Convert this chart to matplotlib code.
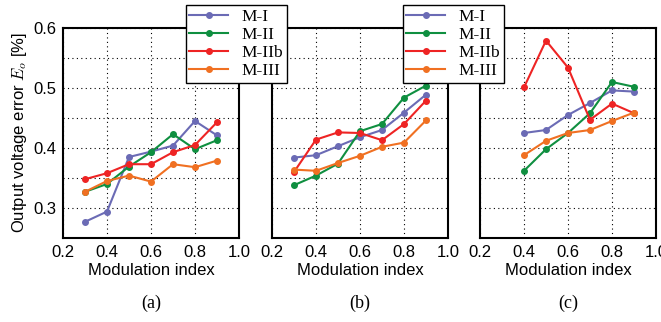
import numpy as np
import matplotlib
matplotlib.use('Agg')
import matplotlib.pyplot as plt

plt.rcParams['font.family'] = ['Liberation Sans', 'DejaVu Sans']
plt.rcParams['mathtext.fontset'] = 'cm'

# ── data
mod_ab = [0.3, 0.4, 0.5, 0.6, 0.7, 0.8, 0.9]
mod_c = [0.4, 0.5, 0.6, 0.7, 0.8, 0.9]

a_m1 = [0.277, 0.294, 0.385, 0.394, 0.404, 0.445, 0.421]
a_m2 = [0.327, 0.340, 0.369, 0.393, 0.423, 0.398, 0.413]
a_m2b = [0.348, 0.358, 0.373, 0.373, 0.393, 0.405, 0.443]
a_m3 = [0.327, 0.345, 0.354, 0.344, 0.373, 0.368, 0.379]

b_m1 = [0.384, 0.388, 0.403, 0.418, 0.430, 0.459, 0.489]
b_m2 = [0.338, 0.354, 0.374, 0.428, 0.440, 0.484, 0.504]
b_m2b = [0.360, 0.414, 0.426, 0.425, 0.413, 0.440, 0.479]
b_m3 = [0.364, 0.362, 0.375, 0.387, 0.402, 0.409, 0.446]

c_m1 = [0.425, 0.430, 0.455, 0.475, 0.496, 0.494]
c_m2 = [0.362, 0.398, 0.425, 0.458, 0.510, 0.502]
c_m2b = [0.501, 0.579, 0.534, 0.447, 0.474, 0.458]
c_m3 = [0.388, 0.412, 0.425, 0.430, 0.445, 0.459]

labels = ['M-I', 'M-II', 'M-IIb', 'M-III']
colors = ['#6b6bb5', '#0f8f40', '#ee2424', '#f07022']

panels = [
    (mod_ab, [a_m1, a_m2, a_m2b, a_m3], '(a)'),
    (mod_ab, [b_m1, b_m2, b_m2b, b_m3], '(b)'),
    (mod_c, [c_m1, c_m2, c_m2b, c_m3], '(c)'),
]

fig = plt.figure(figsize=(6.61, 3.22), dpi=100)
lefts = [63, 272, 480]
W, H = 661, 322

axes = []
for left, (x, series, cap) in zip(lefts, panels):
    ax = fig.add_axes([left / W, 84 / H, 176 / W, 210 / H])
    for ys, lab, col in zip(series, labels, colors):
        ax.plot(x, ys, color=col, lw=1.5, marker='o', ms=4, label=lab)
    ax.set_xlim(0.2, 1.0)
    ax.set_ylim(0.25, 0.6)
    ax.set_xticks([0.2, 0.4, 0.6, 0.8, 1.0])
    ax.set_yticks([0.3, 0.4, 0.5, 0.6])
    ax.set_yticks([0.35, 0.45, 0.55], minor=True)
    ax.grid(True, which='both', axis='y', color='black', ls=(0, (1, 3)), lw=0.8)
    ax.grid(True, which='major', axis='x', color='black', ls=(0, (1, 3)), lw=0.8)
    ax.tick_params(which='both', direction='in', length=0, labelsize=12, pad=5)
    for s in ax.spines.values():
        s.set_linewidth(1.5)
    ax.set_xlabel('Modulation index', fontsize=12, labelpad=2)
    ax.text(0.5, -0.31, cap, transform=ax.transAxes, ha='center', va='center',
            fontsize=13, family='Liberation Serif')
    if left != 63:
        ax.set_yticklabels([])
    axes.append(ax)

axes[0].set_ylabel('Output voltage error $E_o$ [%]', fontsize=12, labelpad=3)

handles, labs = axes[0].get_legend_handles_labels()
for lx in [186, 403]:
    leg = fig.legend(handles, labs, loc='upper left', bbox_to_anchor=(lx / W, 1 - 5 / H),
                     prop={'family': 'Liberation Serif', 'size': 12.5},
                     fancybox=False, framealpha=1, edgecolor='black', handlelength=2.2,
                     borderpad=0.2, labelspacing=0.12, handletextpad=0.8, borderaxespad=0)
    leg.get_frame().set_linewidth(1.0)

fig.savefig('out.png', dpi=100)
